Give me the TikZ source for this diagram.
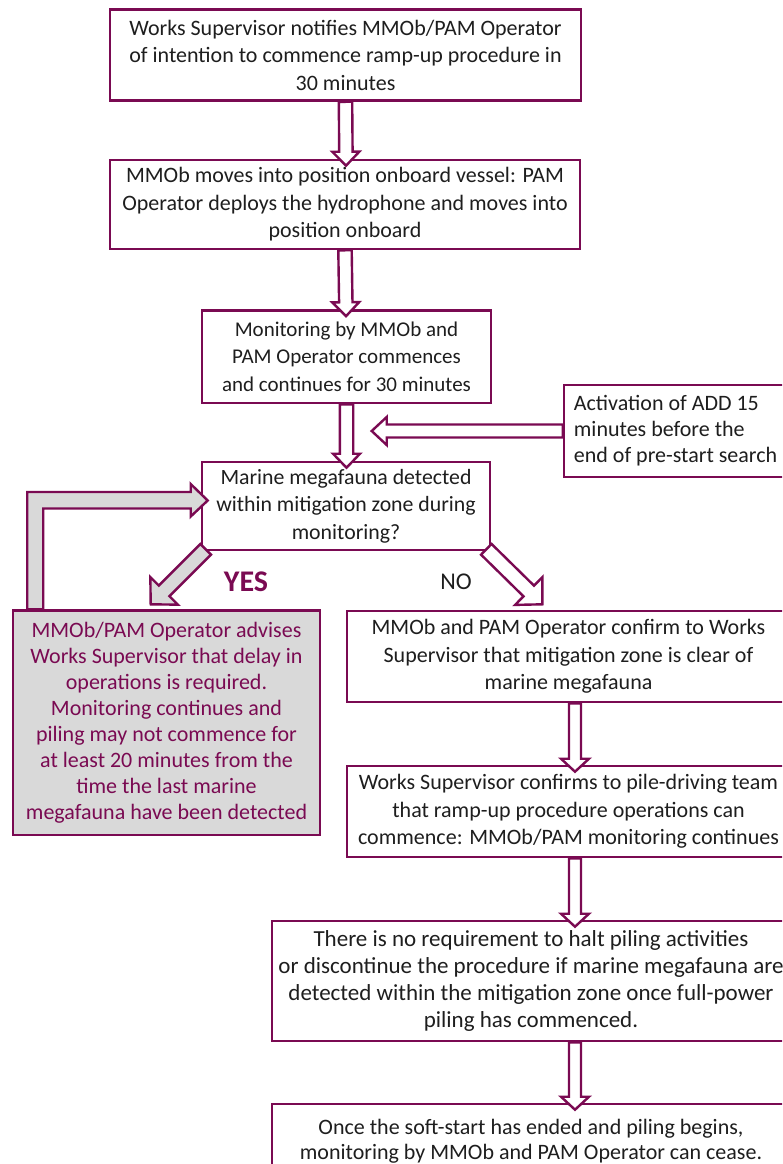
\documentclass[tikz,border=0pt]{standalone}
\usepackage{fontspec}
\setmainfont{Carlito}
\usetikzlibrary{calc}
\definecolor{berry}{RGB}{122,10,82}
\definecolor{txt}{RGB}{30,30,30}
\definecolor{greyfill}{RGB}{217,217,217}
\newcommand\blkarr[6]{%
  \coordinate (ba) at (#2);
  \coordinate (bb) at (#3);
  \coordinate (bh) at ($(bb)!#6!(ba)$);
  \draw[#1] ($(ba)!#4!90:(bb)$) -- ($(bh)!#4!-90:(ba)$) -- ($(bh)!#5!-90:(ba)$) -- (bb)
    -- ($(bh)!#5!90:(ba)$) -- ($(bh)!#4!90:(ba)$) -- ($(ba)!#4!-90:(bb)$) -- cycle;
}
\tikzset{
  box/.style={draw=berry, line width=2.6pt, fill=white, text=txt, align=center, inner sep=0pt,
    font=\fontsize{22}{27.5}\selectfont},
  greybox/.style={box, fill=greyfill, text=berry, font=\fontsize{22}{25.9}\selectfont},
  warr/.style={draw=berry, line width=2.4pt, fill=white, line join=miter},
  garr/.style={draw=berry, line width=2.4pt, fill=greyfill, line join=miter},
}
\begin{document}
\begin{tikzpicture}[x=1pt,y=-1pt]
\useasboundingbox (0,0) rectangle (782,1164);
\clip (0,0) rectangle (782,1164);
% boxes
\node[box, minimum width=471pt, minimum height=91pt] (b1) at (345.5,55)
  {Works Supervisor notifies MMOb/PAM Operator\\ of intention to commence ramp-up procedure in\\ 30 minutes};
\node[box, minimum width=470pt, minimum height=89pt] (b2) at (345,204.5)
  {MMOb moves into position onboard vessel: PAM\\ Operator deploys the hydrophone and moves into\\ position onboard};
\node[box, minimum width=289pt, minimum height=92.5pt, font=\fontsize{21}{27.5}\selectfont] (b3) at (346.5,356.75)
  {Monitoring by MMOb and\\ PAM Operator commences\\ and continues for 30 minutes};
\node[box, minimum width=236pt, minimum height=92pt] (add) at (682,431) {};
\node[text=txt, align=left, anchor=west, inner sep=0pt, font=\fontsize{22}{26}\selectfont] (addtxt) at ($(add.west)+(11,0)$)
  {Activation of ADD 15\\ minutes before the\\ end of pre-start search};
\node[box, minimum width=288pt, minimum height=88pt, font=\fontsize{21.8}{27.5}\selectfont] (dec) at (346,506)
  {Marine megafauna detected\\ within mitigation zone during\\ monitoring?};
\node[greybox, minimum width=307pt, minimum height=224.5pt] (grey) at (166.5,722.75)
  {MMOb/PAM Operator advises\\ Works Supervisor that delay in\\ operations is required.\\ Monitoring continues and\\ piling may not commence for\\ at least 20 minutes from the\\ time the last marine\\ megafauna have been detected};
\node[box, minimum width=443pt, minimum height=91pt] (no) at (568.5,656.5)
  {MMOb and PAM Operator confirm to Works\\ Supervisor that mitigation zone is clear of\\ marine megafauna};
\node[box, minimum width=443pt, minimum height=91pt] (b8) at (568.5,811.5)
  {Works Supervisor confirms to pile-driving team\\ that ramp-up procedure operations can\\ commence: MMOb/PAM monitoring continues};
\node[box, minimum width=518pt, minimum height=120pt, font=\fontsize{23}{27}\selectfont] (b9) at (531,981)
  {There is no requirement to halt piling activities\\ or discontinue the procedure if marine megafauna are\\ detected within the mitigation zone once full-power\\ piling has commenced.};
\node[box, minimum width=518pt, minimum height=74pt, font=\fontsize{22}{24.5}\selectfont] (b10) at (531,1141)
  {Once the soft-start has ended and piling begins,\\ monitoring by MMOb and PAM Operator can cease.};
% labels
\node[text=berry, font=\fontsize{30}{32}\selectfont\bfseries] (yes) at (246,582) {YES};
\node[text=txt, font=\fontsize{24}{26}\selectfont] (nolab) at (456,582) {NO};
% feedback arrow (grey L)
\draw[garr] ($(grey.north west)+(15.5,0)$) |- ($(dec.west)+(-10,-14)$) coordinate (c1)
  -- ++(0,-8) -- ($(dec.west)+(7,-5.5)$) -- ($(dec.west)+(-10,10.5)$) -- ++(0,-8)
  -| ($(grey.north west)+(31.5,0)$) -- cycle;
% vertical arrows
\blkarr{warr}{b1.south}{$(b2.north)+(1,7)$}{6.7pt}{13.5pt}{14pt}
\blkarr{warr}{b2.south}{$(b3.north)+(-0.5,7)$}{6.7pt}{13.5pt}{14pt}
\blkarr{warr}{b3.south}{$(dec.north)+(0.5,7)$}{6.7pt}{13.5pt}{14pt}
\blkarr{warr}{add.west}{$(add.west)+(-191,0)$}{6.5pt}{14pt}{15pt}
\blkarr{warr}{$(no.south)+(6.5,0)$}{$(b8.north)+(6.5,7)$}{6pt}{14pt}{13pt}
\blkarr{warr}{$(b8.south)+(6.5,0)$}{$(b9.north -| b8.south)+(6.5,7)$}{6pt}{14pt}{13pt}
\blkarr{warr}{$(b9.south -| b8.south)+(6.5,0)$}{$(b10.north -| b8.south)+(6.5,7)$}{6pt}{14pt}{13pt}
% diagonal arrows
\blkarr{garr}{$(dec.south west)+(5,-2)$}{$(dec.south west)+(-50,53)$}{7.5pt}{19.5pt}{19pt}
\blkarr{warr}{$(dec.south east)+(-5,-2)$}{$(dec.south east)+(51,53)$}{7.5pt}{19.5pt}{19pt}
\end{tikzpicture}
\end{document}
